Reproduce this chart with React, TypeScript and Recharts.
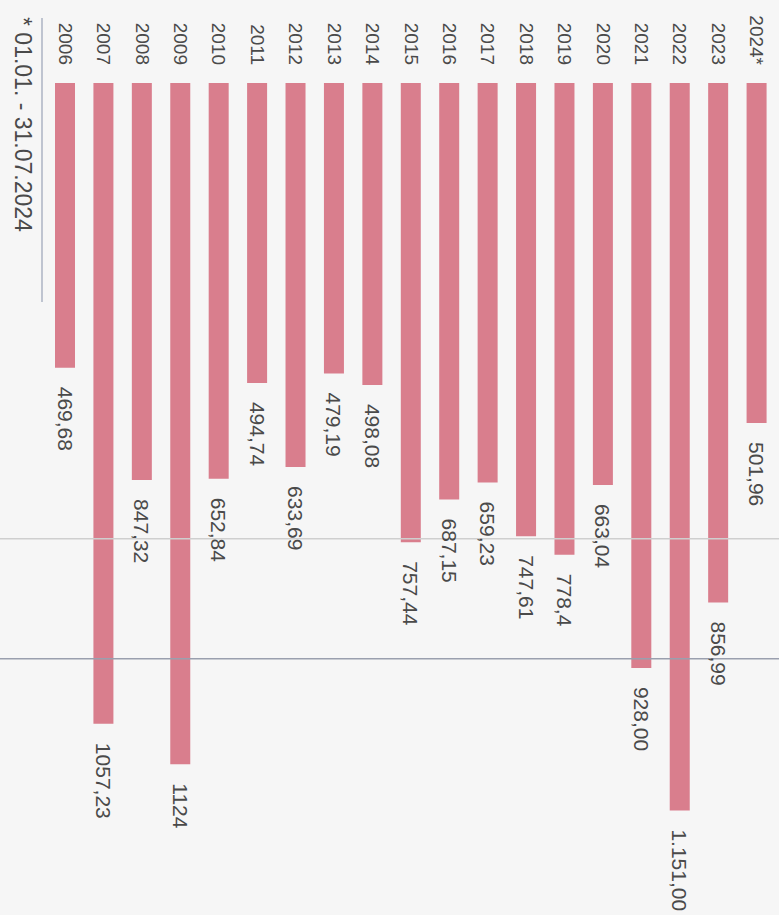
import React from "react";
import { BarChart, Bar, XAxis, YAxis, LabelList, ReferenceLine } from "recharts";

const years = ["2006", "2007", "2008", "2009", "2010", "2011", "2012", "2013", "2014", "2015", "2016", "2017", "2018", "2019", "2020", "2021", "2022", "2023", "2024*"];
// bar lengths as drawn in the picture
const barValues = [469.68, 1057.23, 655, 1124, 652.84, 494.74, 633.69, 479.19, 498.08, 757.44, 687.15, 659.23, 747.61, 778.4, 663.04, 965, 1200, 856.99, 561];
// printed value labels
const valueLabels = ["469,68", "1057,23", "847,32", "1124", "652,84", "494,74", "633,69", "479,19", "498,08", "757,44", "687,15", "659,23", "747,61", "778,4", "663,04", "928,00", "1.151,00", "856,99", "501,96"];
const footnote = "* 01.01. - 31.07.2024";
const guideLines = [752, 950];

const data = years.map((y, i) => ({ year: y, value: barValues[i], label: valueLabels[i] }));

const FONT = "'Liberation Sans', Arial, sans-serif";
const TEXT = "#4a4a4a";
const BAR = "#d97e8d";

const YearTick = (props: any) => {
  const { x, payload } = props;
  return (
    <text
      transform={`translate(${x},65) rotate(90)`}
      textAnchor="end"
      dominantBaseline="central"
      fontSize={19}
      fontFamily={FONT}
      fill={TEXT}
    >
      {payload.value}
    </text>
  );
};

const ValueLabel = (props: any) => {
  const { x, y, width, height, value } = props;
  const bottom = Math.max(y, y + height);
  const cx = x + width / 2;
  return (
    <text
      transform={`translate(${cx},${bottom + 19}) rotate(90)`}
      textAnchor="start"
      dominantBaseline="central"
      fontSize={21}
      fontFamily={FONT}
      fill={TEXT}
    >
      {value}
    </text>
  );
};

export default function App() {
  return (
    <div style={{ position: "absolute", left: 0, top: 0, width: 779, height: 915, background: "#f6f6f6", overflow: "hidden" }}>
      <BarChart
        width={779}
        height={915}
        data={data}
        margin={{ top: 23, right: 0, bottom: 44, left: 0 }}
        barCategoryGap={0}
      >
        <XAxis
          dataKey="year"
          orientation="top"
          axisLine={false}
          tickLine={false}
          height={60}
          interval={0}
          padding={{ left: 46, right: 3 }}
          tick={<YearTick />}
        />
        <YAxis hide reversed width={0} domain={[0, 1300]} type="number" />
        <ReferenceLine y={guideLines[0]} stroke="#cfcfcf" strokeWidth={1.5} />
        <ReferenceLine y={guideLines[1]} stroke="#9a9fae" strokeWidth={1.5} />
        <Bar dataKey="value" fill={BAR} barSize={20} isAnimationActive={false}>
          <LabelList dataKey="label" content={<ValueLabel />} />
        </Bar>
      </BarChart>
      <svg width={779} height={915} style={{ position: "absolute", left: 0, top: 0, pointerEvents: "none" }}>
        <line x1={42} y1={18} x2={42} y2={302} stroke="#9aa3b8" strokeWidth={1.2} />
        <text
          transform="translate(23,17) rotate(90)"
          textAnchor="start"
          dominantBaseline="central"
          fontSize={23}
          fontFamily={FONT}
          fill={TEXT}
        >
          {footnote}
        </text>
      </svg>
    </div>
  );
}
